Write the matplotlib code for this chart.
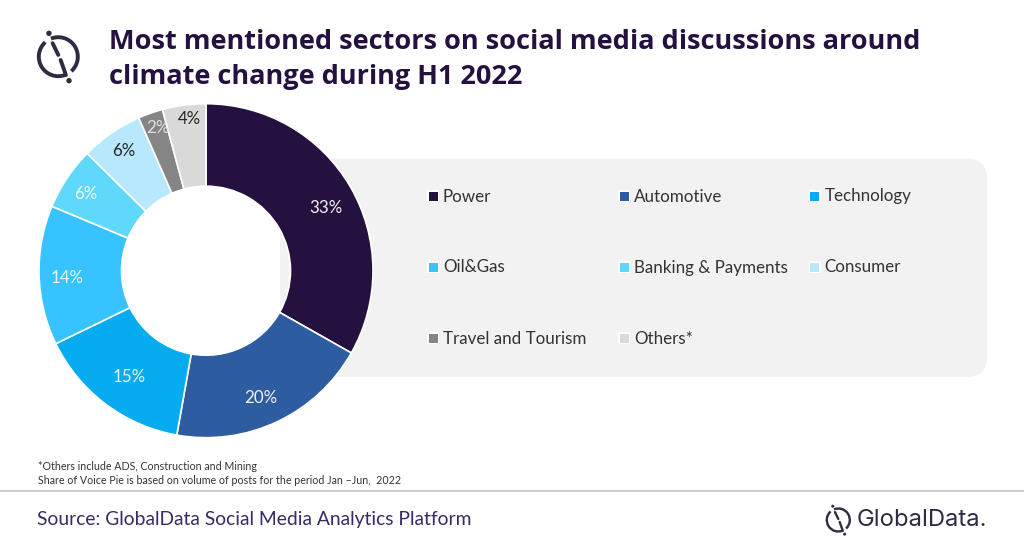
#!/usr/bin/env python3
import matplotlib
matplotlib.use('Agg')
import matplotlib.pyplot as plt
from matplotlib.patches import FancyBboxPatch, Rectangle, Arc, Circle
import numpy as np

sectors = ['Power', 'Automotive', 'Technology', 'Oil&Gas', 'Banking & Payments',
           'Consumer', 'Travel and Tourism', 'Others*']
# wedge sizes, the printed labels are these rounded
shares = [33.2, 19.6, 15.0, 13.5, 6.1, 6.0, 2.4, 4.2]
colors = ['#24113F', '#2E5CA0', '#06ACEF', '#36C3FF', '#5FD8FB', '#B7E8FE', '#858585', '#D9D9D9']
label_colors = ['#F2F2F2', '#F2F2F2', '#E8F8FF', '#E8F8FF', '#F2FBFF', '#262626', '#E0E0E0', '#262626']
# label placement inside each wedge: fraction of radius, degrees off the wedge middle
label_radius = [0.81, 0.829, 0.787, 0.835, 0.855, 0.87, 0.90, 0.912]
label_shift = [2.4, 1.8, -1.2, -1.5, -1.1, 0.3, 0.7, 1.5]

W, H = 1024, 549
fig = plt.figure(figsize=(W / 100, H / 100), dpi=100, facecolor='white')

# pixel space canvas for panel, text and logo
bg = fig.add_axes([0, 0, 1, 1])
bg.set_xlim(0, W)
bg.set_ylim(H, 0)
bg.axis('off')

bg.add_patch(FancyBboxPatch((280, 158.5), 707, 218.5, boxstyle='round,pad=0,rounding_size=20',
                            fc='#F2F2F2', ec='none'))


def draw_logo(ax, cx, cy, r, lw, dot):
    ink = '#2F2B40'
    # y axis is inverted, so arc angles run clockwise on screen
    ax.add_patch(Arc((cx, cy), 2 * r, 2 * r, theta1=-112, theta2=48, color=ink, lw=lw))
    ax.add_patch(Arc((cx, cy), 2 * r, 2 * r, theta1=67, theta2=228, color=ink, lw=lw))
    ax.plot([cx - 0.29 * r, cx], [cy - 0.69 * r, cy - 0.09 * r], color=ink, lw=lw,
            solid_capstyle='round')
    ax.plot([cx + 0.12 * r, cx + 0.39 * r], [cy + 0.17 * r, cy + 0.94 * r], color=ink, lw=lw,
            solid_capstyle='round')
    ax.add_patch(Circle((cx - 0.48 * r, cy - 1.2 * r), dot, fc=ink, ec='none'))
    ax.add_patch(Circle((cx + 0.55 * r, cy + 1.23 * r), dot, fc=ink, ec='none'))


draw_logo(bg, 58.3, 56.7, 19.5, 2.8, 2.7)
draw_logo(bg, 838.3, 520, 11.5, 1.7, 1.5)

bg.text(109, 42, 'Most mentioned sectors on social media discussions around', family='Open Sans',
        fontweight='bold', fontsize=19.53, color='#24113F', va='center', ha='left')
bg.text(109, 77.5, 'climate change during H1 2022', family='Open Sans',
        fontweight='bold', fontsize=19.53, color='#24113F', va='center', ha='left')

# legend, three columns filled row by row
col_x = [428, 619, 809.5]
row_y = [196, 267, 338]
for i, (name, color) in enumerate(zip(sectors, colors)):
    x = col_x[i % 3]
    y = row_y[i // 3]
    bg.add_patch(Rectangle((x - 1, y - 6), 12, 12, fc='white', ec='none'))
    bg.add_patch(Rectangle((x + 0.5, y - 4.5), 9, 9, fc=color, ec='none'))
    bg.text(x + 15, y + 5.5, name, family='Lato', fontsize=12.25, color='#333333', va='baseline', ha='left')

bg.text(38.5, 466.5, '*Others include ADS, Construction and Mining', family='Lato', fontsize=7.65,
        color='#333333', va='center')
bg.text(38.5, 480.5, 'Share of Voice Pie is based on volume of posts for the period Jan \u2013Jun,  2022',
        family='Lato', fontsize=7.62, color='#333333', va='center')

bg.plot([0, W], [491, 491], color='#C4C4C4', lw=1.2)
bg.text(37, 519, 'Source: GlobalData Social Media Analytics Platform', family='Lato', fontsize=13.9,
        color='#3A2A66', va='center')
bg.text(856.5, 520, 'GlobalData.', family='Inter', fontsize=17.1, color='#2F2B40', va='center')

# donut
cx, cy, radius = 206, 270.7, 167
pie_ax = fig.add_axes([(cx - radius) / W, 1 - (cy + radius) / H, 2 * radius / W, 2 * radius / H])
wedges, _ = pie_ax.pie(shares, colors=colors, startangle=90, counterclock=False, radius=1,
                       wedgeprops=dict(width=0.494, edgecolor='white', linewidth=1.2))
pie_ax.set_xlim(-1, 1)
pie_ax.set_ylim(-1, 1)
pie_ax.set_aspect('equal')

for wedge, share, tc, r, shift in zip(wedges, shares, label_colors, label_radius, label_shift):
    # wedges run clockwise, so a positive shift lowers the angle
    theta = np.deg2rad((wedge.theta1 + wedge.theta2) / 2 - shift)
    pie_ax.text(r * np.cos(theta), r * np.sin(theta), f'{round(share)}%', family='Lato', fontsize=12.2,
                color=tc, ha='center', va='center')

fig.savefig('out.png', dpi=100, facecolor='white')
plt.close(fig)
